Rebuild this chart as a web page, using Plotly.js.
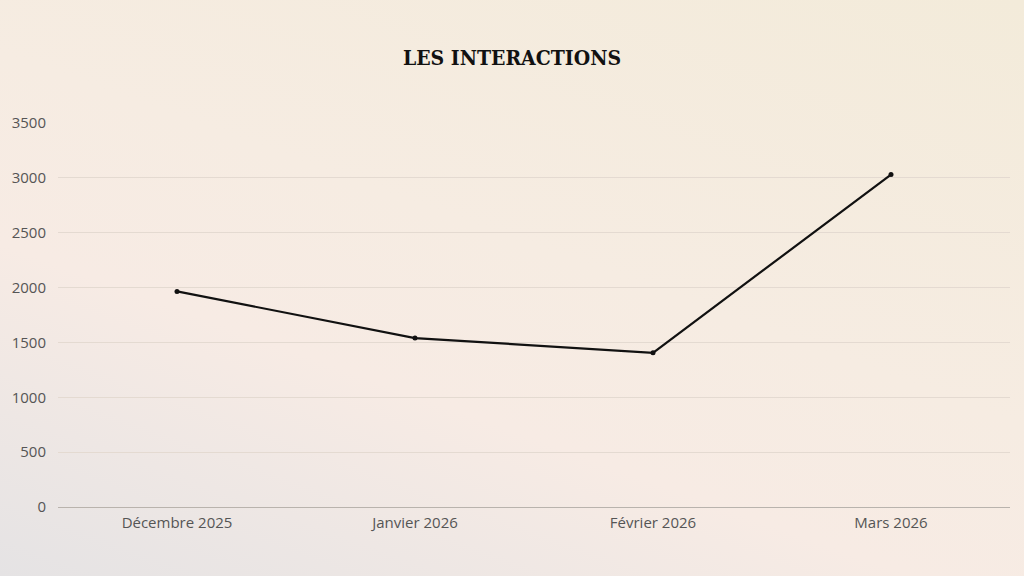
<!DOCTYPE html>
<html>
<head>
<meta charset="utf-8">
<script src="https://cdn.plot.ly/plotly-3.0.1.min.js"></script>
<style>
html,body{margin:0;padding:0;width:1024px;height:576px;overflow:hidden;}
body{background:linear-gradient(200deg,#f3ebda 0%,#f6ece2 45%,#f7ebe4 65%,#e5e3e4 100%);}
#chart{width:1024px;height:576px;}
</style>
</head>
<body>
<div id="chart"></div>
<script>
var categories = ["Décembre 2025","Janvier 2026","Février 2026","Mars 2026"];
var interactions = [1965, 1540, 1405, 3030];
var yTicks = [0,500,1000,1500,2000,2500,3000,3500];

Plotly.newPlot('chart',[{
  type:'scatter',
  mode:'lines+markers',
  x:categories,
  y:interactions,
  line:{color:'#111111',width:2.2},
  marker:{color:'#111111',size:5},
  hoverinfo:'x+y'
}],{
  width:1024,height:576,
  paper_bgcolor:'rgba(0,0,0,0)',
  plot_bgcolor:'rgba(0,0,0,0)',
  margin:{l:58,r:14,t:123,b:69},
  title:{text:'<b>LES INTERACTIONS</b>',x:0.5,xanchor:'center',y:0.9,yanchor:'middle',
    font:{family:'DejaVu Serif Condensed, Liberation Serif, serif',size:21,color:'#111111'}},
  showlegend:false,
  xaxis:{
    type:'category',
    range:[-0.5,3.5],
    showgrid:false,
    showline:true,linecolor:'#b9b3ad',linewidth:1,
    ticks:'outside',ticklen:2,tickcolor:'rgba(0,0,0,0)',
    tickfont:{family:'Open Sans, sans-serif',size:15,color:'#555555'},
    zeroline:false,
    fixedrange:true
  },
  yaxis:{
    range:[0,3500],
    tickvals:yTicks,
    ticktext:yTicks.map(String),
    showgrid:true,gridcolor:'#e4dad1',gridwidth:1,
    zeroline:false,
    showline:false,
    ticks:'outside',ticklen:8,tickcolor:'rgba(0,0,0,0)',
    tickfont:{family:'Open Sans, sans-serif',size:15,color:'#555555'},
    fixedrange:true
  }
},{displayModeBar:false,staticPlot:true});
</script>
</body>
</html>
